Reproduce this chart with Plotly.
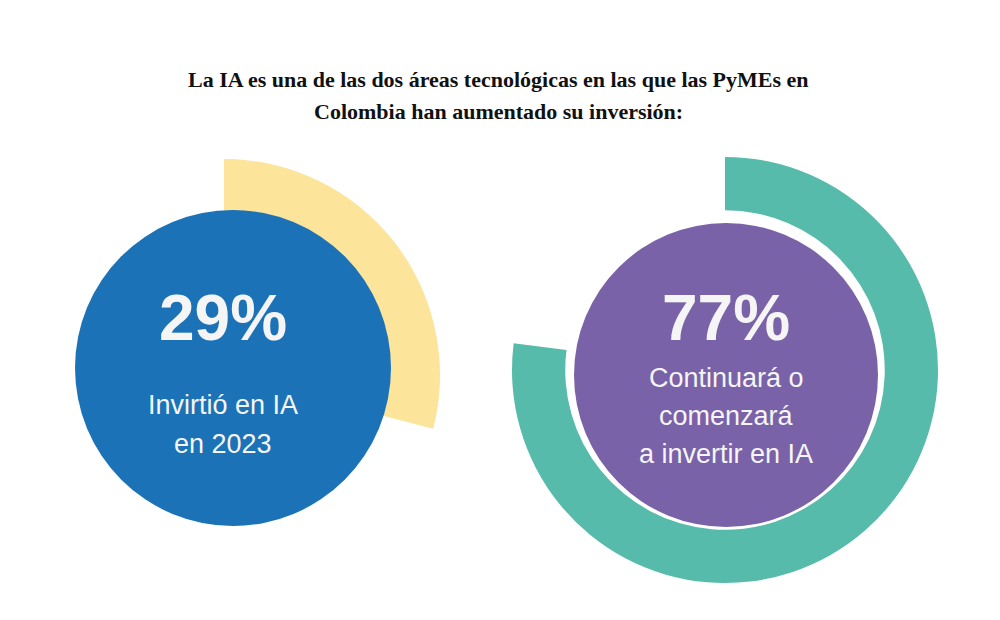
import plotly.graph_objects as go

W, H = 1000, 620

title_lines = ["La IA es una de las dos áreas tecnológicas en las que las PyMEs en",
               "Colombia han aumentado su inversión:"]
pct_values = [29, 77]
pct_labels = ["29%", "77%"]
captions = [["Invirtió en IA", "en 2023"],
            ["Continuará o", "comenzará", "a invertir en IA"]]
ring_colors = ["#fce49b", "#56bbab"]
disc_colors = ["#1b72b7", "#7a62a8"]

# pixel geometry: ring center/radius, disc center/radius
rings = [(216, 367, 216), (717, 362, 213)]
discs = [(225, 360, 158), (718, 367, 152)]


def dom(cx, cy, r):
    x0 = max(0, (cx - r) / W)
    return dict(x=[x0, min(1, (cx + r) / W)],
                y=[max(0, 1 - (cy + r) / H), min(1, 1 - (cy - r) / H)])


fig = go.Figure()
for i, v in enumerate(pct_values):
    cx, cy, r = rings[i]
    fig.add_trace(go.Pie(
        values=[v, 100 - v], sort=False, direction="clockwise", rotation=0,
        hole=0.75, domain=dom(cx, cy, r), textinfo="none", hoverinfo="skip",
        marker=dict(colors=[ring_colors[i], "rgba(0,0,0,0)"], line=dict(width=0)),
        showlegend=False))

shapes = []
for i, (cx, cy, r) in enumerate(discs):
    shapes.append(dict(type="circle", xref="paper", yref="paper",
                       x0=(cx - r) / W, x1=(cx + r) / W,
                       y0=1 - (cy + r) / H, y1=1 - (cy - r) / H,
                       fillcolor=disc_colors[i], line=dict(width=0)))

ann = []
for k, line in enumerate(title_lines):
    ann.append(dict(text="<b>" + line + "</b>", x=490 / W, y=1 - (72 + 31 * k) / H,
                    font=dict(size=22, color="#111", family="Liberation Sans Narrow")))
pct_y = [310, 310]
cap_y = [[397, 436], [370, 408, 446]]
for i in range(2):
    cx = discs[i][0] - (10 if i == 0 else 0)
    ann.append(dict(text="<b>" + pct_labels[i] + "</b>", x=cx / W, y=1 - pct_y[i] / H,
                    font=dict(size=64, color="#f5f5f5", family="Liberation Sans")))
    for j, c in enumerate(captions[i]):
        ann.append(dict(text=c, x=cx / W, y=1 - cap_y[i][j] / H,
                        font=dict(size=27, color="#f5f5f5", family="Liberation Sans")))
for a in ann:
    a.update(xref="paper", yref="paper", showarrow=False, xanchor="center", yanchor="middle")

fig.update_layout(width=W, height=H, margin=dict(l=0, r=0, t=0, b=0),
                  paper_bgcolor="white", plot_bgcolor="white",
                  shapes=shapes, annotations=ann)
fig.write_html("out.html")
